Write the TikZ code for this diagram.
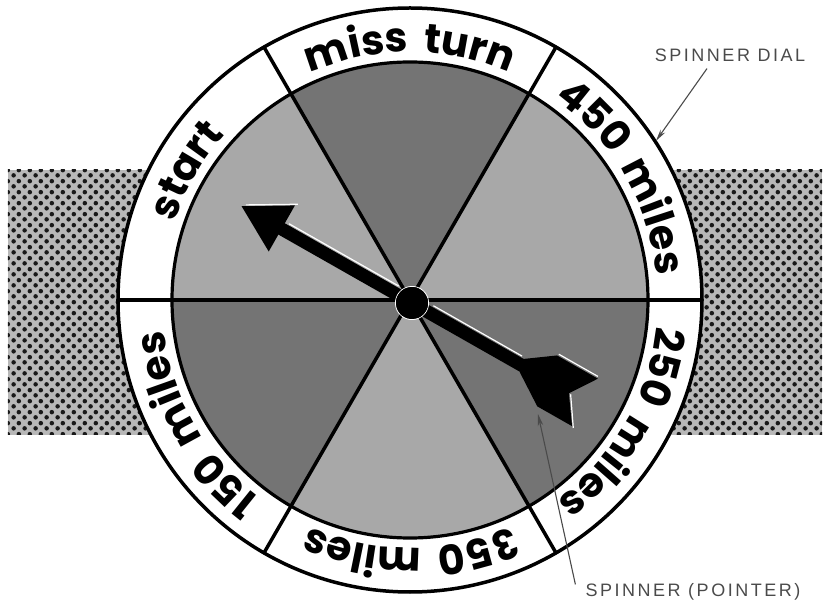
\documentclass[tikz,border=0pt]{standalone}
\usepackage{fontspec}
\usetikzlibrary{decorations.text,patterns,arrows.meta}
\newfontfamily\dialfont{Poppins Bold}[LetterSpace=14]
\newfontfamily\notefont{Liberation Sans}[LetterSpace=14]
\newcommand\dialsize{\dialfont\fontsize{41}{41}\selectfont}
\definecolor{darksec}{HTML}{747474}
\definecolor{lightsec}{HTML}{A8A8A8}
\definecolor{notegray}{HTML}{4A4A4A}
\pgfdeclarepatternformonly{halftone}{\pgfqpoint{0pt}{0pt}}{\pgfqpoint{10.7pt}{10.7pt}}{\pgfqpoint{10.7pt}{10.7pt}}{%
  \pgfpathcircle{\pgfqpoint{2.7pt}{2.7pt}}{2.3pt}%
  \pgfpathcircle{\pgfqpoint{8.05pt}{8.05pt}}{2.3pt}%
  \pgfusepath{fill}}
\newcommand\dlabel[2]{%
  \path[decorate, decoration={text along path, text align=center, text={|\dialsize|#2}}]
    ({#1+30}:248) arc[start angle={#1+30}, end angle={#1-30}, radius=248];}
\tikzset{
  divider/.style={line width=3.5pt, line cap=round},
  note/.style={font=\notefont\fontsize{18}{18}\selectfont, text=notegray, inner sep=0pt},
  notearrow/.style={draw=notegray, line width=1.1pt, -{Stealth[length=12pt,width=5.5pt]}},
}
\begin{document}
\begin{tikzpicture}[x=1pt,y=1pt]
\useasboundingbox (-410,-302) rectangle (415,300);
\coordinate (c) at (0,0);
% halftone band
\fill[black!28] (-402,130) rectangle (412,-135);
\fill[pattern=halftone, pattern color=black!90] (-402,130) rectangle (412,-135);
% dial
\fill[white] (c) circle (292);
\foreach \a/\col in {0/lightsec,60/darksec,120/lightsec,180/darksec,240/lightsec,300/darksec}{
  \fill[\col] (c) -- (\a:238) arc[start angle=\a, end angle=\a+60, radius=238] -- cycle;
}
\draw[divider] (0:292) -- (180:292);
\draw[divider] (60:292) -- (240:292);
\draw[divider] (120:292) -- (300:292);
\draw[line width=3.5pt] (c) circle (292);
\draw[line width=3.2pt] (c) circle (238);
% labels on the ring
\dlabel{90}{miss turn}
\dlabel{30}{450 miles}
\dlabel{-30}{250 miles}
\dlabel{-90}{350 miles}
\dlabel{-150}{150 miles}
\dlabel{150}{start}
% pointer
\begin{scope}[shift={(2,-3)}, rotate=-29.6]
  \fill[black] (-152,6.5) -- (128,6.5) -- (128,-6.5) -- (-152,-6.5) -- cycle;
  \fill[black] (-196,0) -- (-150,27) -- (-150,-26) -- cycle;
  \fill[black] (124,6) -- (152,26) -- (199,26) -- (181,-1) -- (200,-28) -- (160,-28) -- (128,-7) -- cycle;
  \draw[white, line width=1.2pt] (-193,3.2) -- (-148,29.5);
  \draw[white, line width=1.2pt] (-146,8.2) -- (-20,8.2);
  \draw[white, line width=1.2pt] (20,8.2) -- (122,8.2);
  \draw[white, line width=1.2pt] (153,28) -- (198,28);
  \draw[white, line width=1.2pt] (183,-1) -- (202,-29);
  \draw[white, line width=0.8pt] (0,0) circle (16.6);
  \fill[black] (0,0) circle (16);
\end{scope}
% annotations
\node[note] (dial) at (320,245) {SPINNER DIAL};
\coordinate (dialtip) at (32.9:293);
\draw[notearrow] ([xshift=-23pt,yshift=-7pt]dial.south) -- (dialtip);
\node[note] (ptr) at (283,-292) {SPINNER (POINTER)};
\coordinate (ptrtip) at (128,-114);
\draw[notearrow] ([xshift=-10pt,yshift=-1pt]ptr.north west) -- (ptrtip);
\end{tikzpicture}
\end{document}
